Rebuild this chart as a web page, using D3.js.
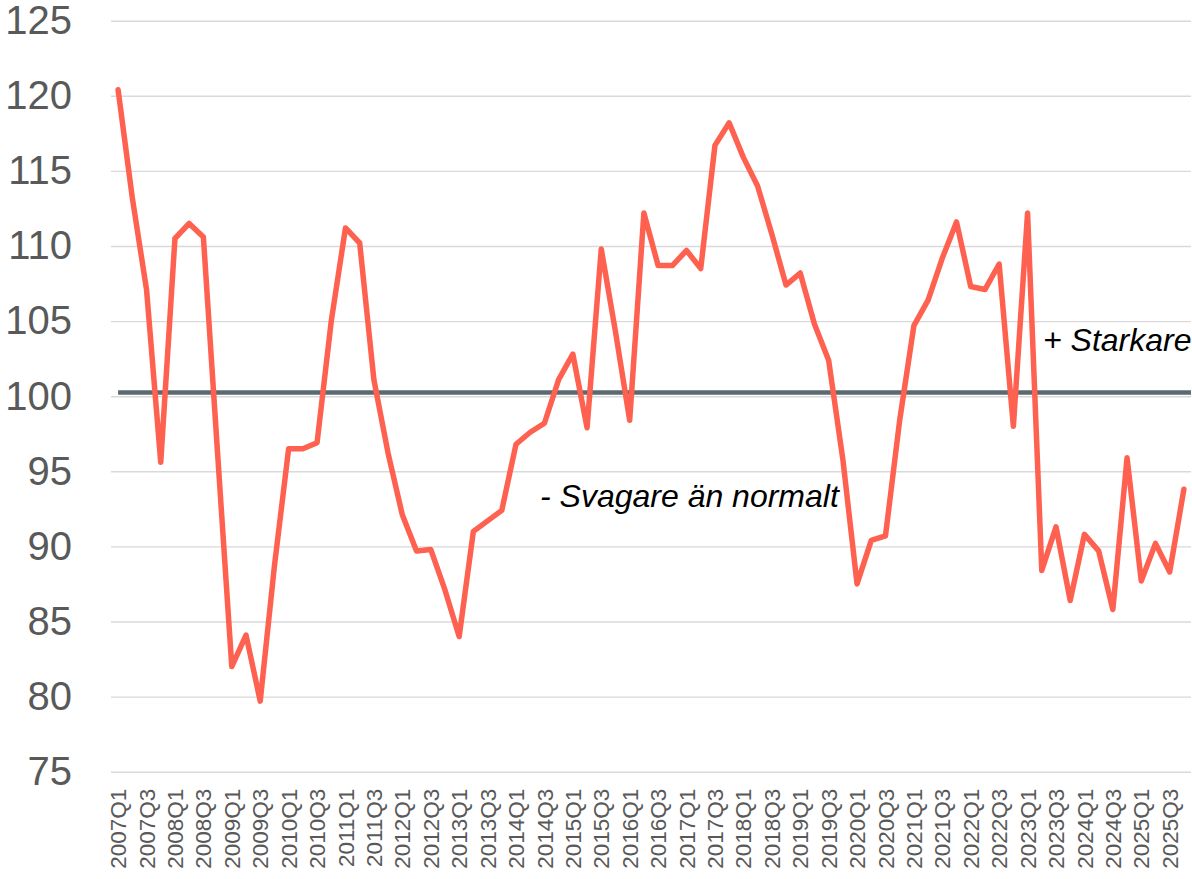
<!DOCTYPE html>
<html>
<head>
<meta charset="utf-8">
<script src="https://cdn.jsdelivr.net/npm/d3@7"></script>
<style>
  body { margin: 0; background: #fff; }
  svg { display: block; font-family: Arial, "Liberation Sans", sans-serif; }
</style>
</head>
<body>
<div id="canvas"></div>
<script>
"use strict";

// Data

let years = d3.range(2007, 2026);
let quarters = ["Q1", "Q2", "Q3", "Q4"];
let categories = years.flatMap(y => quarters.map(q => y + q));

let values = [
    120.4, 113.2, 107.1, 95.6,
    110.5, 111.5, 110.6, 96.2,
    82.0, 84.1, 79.7, 88.7,
    96.5, 96.5, 96.9, 105.0,
    111.2, 110.2, 101.1, 96.2,
    92.1, 89.7, 89.8, 87.1,
    84.0, 91.0, 91.7, 92.4,
    96.8, 97.6, 98.2, 101.1,
    102.8, 97.9, 109.8, 104.3,
    98.4, 112.2, 108.7, 108.7,
    109.7, 108.5, 116.7, 118.2,
    115.9, 114.0, 110.8, 107.4,
    108.2, 104.8, 102.4, 95.8,
    87.5, 90.4, 90.7, 98.4,
    104.7, 106.4, 109.2, 111.6,
    107.3, 107.1, 108.8, 98.0,
    112.2, 88.4, 91.3, 86.4,
    90.8, 89.7, 85.8, 95.9,
    87.7, 90.2, 88.3, 93.8
];

let refValue = 100.25;
let yTicks = [75, 80, 85, 90, 95, 100, 105, 110, 115, 120, 125];

let dataset = categories.map((c, i) => ({ q: c, v: values[i] }));

// SVG setup

let svgWidth = 1192;
let svgHeight = 879;

let leftMargin = 111;
let rightMargin = 1;
let topMargin = 20.7;
let bottomMargin = 107.3;

let innerWidth = svgWidth - leftMargin - rightMargin;
let innerHeight = svgHeight - topMargin - bottomMargin;

let svg = d3.select("#canvas")
    .append("svg")
    .attr("width", svgWidth)
    .attr("height", svgHeight);

let chart = svg.append("g")
    .attr("transform", `translate(${leftMargin}, ${topMargin})`);

// Scales

let xScale = d3.scaleBand()
    .domain(categories)
    .range([0, innerWidth])
    .padding(0);

let xPos = q => xScale(q) + xScale.bandwidth() / 2;

let yScale = d3.scaleLinear()
    .domain([75, 125])
    .range([innerHeight, 0]);

// Gridlines + y labels
let yAxis = chart.append("g")
    .call(d3.axisLeft(yScale)
        .tickValues(yTicks)
        .tickSize(-innerWidth)
        .tickPadding(39)
        .tickFormat(d3.format("d")));

yAxis.select(".domain").remove();
yAxis.selectAll(".tick line")
    .attr("stroke", "#d9d9d9")
    .attr("stroke-width", 1.4);
yAxis.selectAll(".tick text")
    .attr("fill", "#595959")
    .attr("font-size", 40)
    .attr("font-family", "Arial, 'Liberation Sans', sans-serif");

// x labels (every second quarter)
let xLabels = categories.filter(c => c.endsWith("Q1") || c.endsWith("Q3"));

let xAxis = chart.append("g")
    .attr("transform", `translate(0, ${innerHeight})`)
    .call(d3.axisBottom(xScale).tickValues(xLabels).tickSize(0));

xAxis.select(".domain").remove();
xAxis.selectAll(".tick text")
    .attr("fill", "#595959")
    .attr("font-size", 22.5)
    .attr("font-family", "Arial, 'Liberation Sans', sans-serif")
    .attr("text-anchor", "end")
    .attr("transform", "rotate(-90)")
    .attr("x", -17)
    .attr("y", 0)
    .attr("dy", "0.36em");

// Reference line at 100
chart.append("line")
    .attr("x1", xPos(categories[0]))
    .attr("x2", innerWidth)
    .attr("y1", yScale(refValue))
    .attr("y2", yScale(refValue))
    .attr("stroke", "#5b6a71")
    .attr("stroke-width", 4.5);

// Series line
let line = d3.line()
    .x(d => xPos(d.q))
    .y(d => yScale(d.v));

chart.append("path")
    .datum(dataset)
    .attr("fill", "none")
    .attr("stroke", "#ff6150")
    .attr("stroke-width", 5.5)
    .attr("stroke-linejoin", "round")
    .attr("stroke-linecap", "round")
    .attr("d", line);

// Annotations
svg.append("text")
    .attr("x", 1043)
    .attr("y", 351)
    .attr("font-size", 32)
    .attr("font-style", "italic")
    .attr("fill", "#000")
    .text("+ Starkare");

svg.append("text")
    .attr("x", 540)
    .attr("y", 507)
    .attr("font-size", 32)
    .attr("font-style", "italic")
    .attr("fill", "#000")
    .text("- Svagare än normalt");
</script>
</body>
</html>
